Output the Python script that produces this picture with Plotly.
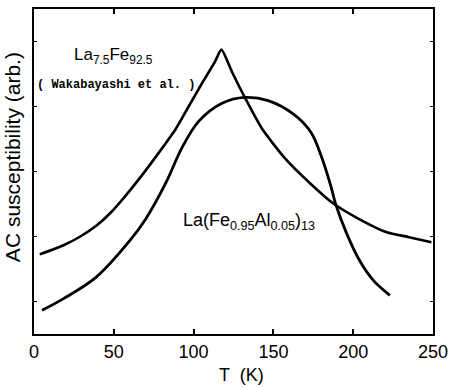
import plotly.graph_objects as go

# La7.5Fe92.5 (Wakabayashi et al.)
t_lafe = [3.6, 18.5, 29, 39, 48, 55.6, 66, 76.3, 88.7, 96.9, 105.1, 113.4, 117.4, 124, 132.3, 142.6, 157, 173.6, 188, 204, 221, 235, 249]
chi_lafe = [24.5, 27.3, 30.0, 33.3, 37.3, 41.5, 47.8, 54.5, 63.0, 70.0, 77.0, 83.8, 87.5, 80.7, 72.6, 63.4, 54.2, 46.1, 40.0, 35.3, 31.3, 29.8, 28.2]

# La(Fe0.95Al0.05)13
t_lafeal = [5, 18.5, 39, 60, 70, 82.6, 92.9, 103.3, 117.8, 132, 146.7, 163, 173.6, 179.8, 186, 189, 196, 204, 212.6, 223]
chi_lafeal = [7.3, 10.9, 17.5, 28.7, 35.4, 46.5, 57.5, 65.5, 71.0, 72.8, 71.8, 67.5, 62.0, 55.0, 45.5, 40.0, 30.8, 22.6, 16.5, 11.9]

x_ticks = [0, 50, 100, 150, 200, 250]

fig = go.Figure()
fig.add_trace(go.Scatter(x=t_lafe, y=chi_lafe, mode="lines",
                         line=dict(color="black", width=2.6, shape="spline", smoothing=0.6),
                         showlegend=False))
fig.add_trace(go.Scatter(x=t_lafeal, y=chi_lafeal, mode="lines",
                         line=dict(color="black", width=2.8, shape="spline", smoothing=1.0),
                         showlegend=False))

fig.update_layout(
    width=455, height=387,
    margin=dict(l=34, r=18, t=7, b=53),
    paper_bgcolor="white", plot_bgcolor="white",
    font=dict(family="Liberation Sans, Arial, sans-serif", color="black"),
    xaxis=dict(range=[0, 250], tickvals=x_ticks, ticktext=[str(v) for v in x_ticks],
               ticks="inside", ticklen=5, tickwidth=1.5, tickcolor="black",
               showline=True, linecolor="black", linewidth=2, mirror="ticks",
               showgrid=False, zeroline=False, tickfont=dict(size=18)),
    yaxis=dict(range=[0, 100], tickvals=[10, 30, 50, 70, 90], showticklabels=False,
               ticks="inside", ticklen=3, tickwidth=1, tickcolor="black",
               showline=True, linecolor="black", linewidth=2, mirror="ticks",
               showgrid=False, zeroline=False),
    annotations=[
        dict(text="AC susceptibility (arb.)", xref="paper", yref="paper",
             x=-0.052, y=0.545, textangle=-90, showarrow=False,
             xanchor="center", yanchor="middle", font=dict(size=21)),
        dict(text="T  (K)", xref="paper", yref="paper", x=0.52, y=-0.125,
             showarrow=False, xanchor="center", yanchor="middle", font=dict(size=18)),
        dict(text="La<sub>7.5</sub>Fe<sub>92.5</sub>", xref="paper", yref="paper",
             x=0.2, y=0.855, showarrow=False, xanchor="center", yanchor="middle",
             font=dict(size=17)),
        dict(text="<b>( Wakabayashi et al. )</b>", xref="paper", yref="paper",
             x=0.003, y=0.765, showarrow=False, xanchor="left", yanchor="middle",
             font=dict(size=12, family="Liberation Mono, Courier New, monospace")),
        dict(text="La(Fe<sub>0.95</sub>Al<sub>0.05</sub>)<sub>13</sub>", xref="paper", yref="paper",
             x=0.54, y=0.345, showarrow=False, xanchor="center", yanchor="middle",
             font=dict(size=18)),
    ],
)

fig.write_html("out.html")
